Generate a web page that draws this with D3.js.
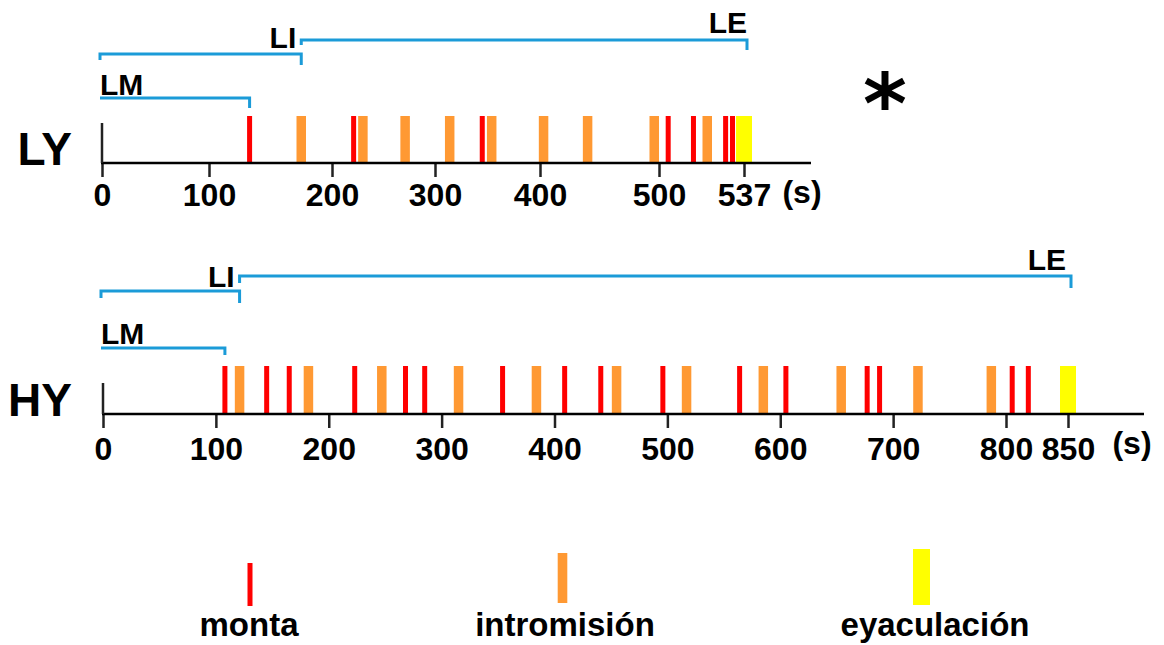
<!DOCTYPE html>
<html>
<head>
<meta charset="utf-8">
<script src="https://cdn.jsdelivr.net/npm/d3@7"></script>
<style>
  body { margin: 0; background: #fff; }
  svg { display: block; }
  text { font-family: "Liberation Sans", Arial, sans-serif; font-weight: bold; fill: #000; }
</style>
</head>
<body>
<svg id="chart" width="1164" height="645"></svg>
<script>
// Event times in seconds for each animal
const lyMonta = [133, 221, 345, 504, 515, 529, 532];
const lyIntromision = [175, 230, 271, 314, 354, 403, 440, 496, 521];
const lyEyaculacion = [537];

const hyMonta = [108, 145, 165, 223, 268, 285, 354, 409, 441, 496, 564, 605, 677, 688, 805, 818];
const hyIntromision = [121, 182, 247, 315, 384, 455, 517, 585, 654, 722, 787];
const hyEyaculacion = [850];

// Tick labels of each time axis
const lyTicks = [0, 100, 200, 300, 400, 500, 537];
const hyTicks = [0, 100, 200, 300, 400, 500, 600, 700, 800, 850];

const groupNames = ["LY", "HY"];
const latencyNames = ["LM", "LI", "LE"];
const legendLabels = ["monta", "intromisión", "eyaculación"];
const unitLabel = "(s)";

const colors = { monta: "#ff0000", intromision: "#ff9933", eyaculacion: "#ffff00" };
const bracketColor = "#1b9bd8";

const svg = d3.select("#chart");
svg.append("rect").attr("width", 1164).attr("height", 645).attr("fill", "#fff");

// Hand-spaced time axes: breakpoints at the labelled ticks
const lyX = d3.scaleLinear().domain(lyTicks).range([102, 209, 332, 435, 540, 659, 744]);
const hyX = d3.scaleLinear().domain([0, 800, 850]).range([103, 1006, 1068]);

const panels = [
  {
    name: groupNames[0], x: lyX, ticks: lyTicks, axisY: 163,
    monta: lyMonta, intro: lyIntromision, eyac: lyEyaculacion,
    axisExtra: 67, stemTop: 40, barH: 47, pad: 6,
    unitX: 802, unitY: 203,
    leY: 33, leLineY: 40, liY: 48, lmliLineY: 54, lmY: 95, lmLineY: 98,
    hooks: { lmli: [6, 11], lile: [5, 10], lm: 10 }, leShift: 0
  },
  {
    name: groupNames[1], x: hyX, ticks: hyTicks, axisY: 414,
    monta: hyMonta, intro: hyIntromision, eyac: hyEyaculacion,
    axisExtra: 76, stemTop: 31, barH: 48, pad: 9.5,
    unitX: 1132, unitY: 454,
    leY: 270, leLineY: 276, liY: 287, lmliLineY: 291, lmY: 344, lmLineY: 348,
    hooks: { lmli: [7, 12], lile: [7, 12], lm: 7 }, leShift: 5
  }
];

function bracket(g, x1, x2, y, hookL, hookR) {
  g.append("path")
    .attr("d", `M${x1},${y + hookL}V${y}H${x2}V${y + hookR}`)
    .attr("fill", "none")
    .attr("stroke", bracketColor)
    .attr("stroke-width", 3);
}

panels.forEach(p => {
  const g = svg.append("g");
  const x = p.x;
  const x0 = x(0);
  const xEnd = x(p.ticks[p.ticks.length - 1]);

  // Event marks
  const marks = [
    { data: p.monta, color: colors.monta, w: 5 },
    { data: p.intro, color: colors.intromision, w: 9.5 },
    { data: p.eyac, color: colors.eyaculacion, w: 16 }
  ];
  marks.forEach(m => {
    g.selectAll(null).data(m.data).enter().append("rect")
      .attr("x", d => x(d) - m.w / 2)
      .attr("y", p.axisY - p.barH)
      .attr("width", m.w)
      .attr("height", p.barH)
      .attr("fill", m.color);
  });

  // Time axis with ticks
  const axis = d3.axisBottom(x).tickValues(p.ticks).tickSize(14).tickPadding(p.pad).tickFormat(d3.format("d"));
  const ag = g.append("g").attr("transform", `translate(0,${p.axisY})`).call(axis);
  ag.select(".domain").remove();
  ag.selectAll(".tick line").attr("stroke", "#222").attr("stroke-width", 2.5);
  ag.selectAll(".tick text")
    .attr("fill", "#000")
    .style("font-size", "32px")
    .style("font-family", '"Liberation Sans", Arial, sans-serif')
    .style("font-weight", "bold");

  g.append("line")
    .attr("x1", x0 - 1).attr("x2", xEnd + p.axisExtra)
    .attr("y1", p.axisY).attr("y2", p.axisY)
    .attr("stroke", "#000").attr("stroke-width", 2.5);
  g.append("line")
    .attr("x1", x0).attr("x2", x0)
    .attr("y1", p.axisY - p.stemTop).attr("y2", p.axisY)
    .attr("stroke", "#222").attr("stroke-width", 2.5);

  g.append("text")
    .attr("x", p.unitX).attr("y", p.unitY)
    .attr("text-anchor", "middle")
    .style("font-size", "32px")
    .text(unitLabel);

  // Group label
  g.append("text")
    .attr("x", 72).attr("y", p.axisY + 2)
    .attr("text-anchor", "end")
    .style("font-size", "46px")
    .text(p.name);

  // Latency brackets: first mount, first intromission, ejaculation
  const lm = d3.min(p.monta);
  const li = d3.min(p.intro);
  const le = d3.min(p.eyac);
  const xLM = x(lm), xLI = x(li), xLE = x(le) + 3;

  bracket(g, x0 - 2, xLI, p.lmliLineY, p.hooks.lmli[0], p.hooks.lmli[1]);
  bracket(g, xLI, xLE, p.leLineY, p.hooks.lile[0], p.hooks.lile[1]);
  bracket(g, x0 - 2, xLM, p.lmLineY, 0, p.hooks.lm);

  g.append("text").attr("x", x0 - 2).attr("y", p.lmY)
    .attr("text-anchor", "start").style("font-size", "30px").text(latencyNames[0]);
  g.append("text").attr("x", xLI - 5).attr("y", p.liY)
    .attr("text-anchor", "end").style("font-size", "30px").text(latencyNames[1]);
  g.append("text").attr("x", xLE - p.leShift).attr("y", p.leY)
    .attr("text-anchor", "end").style("font-size", "30px").text(latencyNames[2]);
});

// Significance mark
svg.append("text")
  .attr("x", 885).attr("y", 133)
  .attr("text-anchor", "middle")
  .style("font-family", '"DejaVu Sans", sans-serif')
  .style("font-size", "84px")
  .text("*");

// Legend
const legendItems = [
  { label: legendLabels[0], color: colors.monta, cx: 250, w: 5, top: 563, bottom: 606, tx: 249 },
  { label: legendLabels[1], color: colors.intromision, cx: 562.5, w: 9.6, top: 553, bottom: 603, tx: 565 },
  { label: legendLabels[2], color: colors.eyaculacion, cx: 921.5, w: 17, top: 549, bottom: 605, tx: 935 }
];
const lg = svg.append("g");
legendItems.forEach(it => {
  lg.append("rect")
    .attr("x", it.cx - it.w / 2).attr("y", it.top)
    .attr("width", it.w).attr("height", it.bottom - it.top)
    .attr("fill", it.color);
  lg.append("text")
    .attr("x", it.tx).attr("y", 636)
    .attr("text-anchor", "middle")
    .style("font-size", "33px")
    .text(it.label);
});
</script>
</body>
</html>
